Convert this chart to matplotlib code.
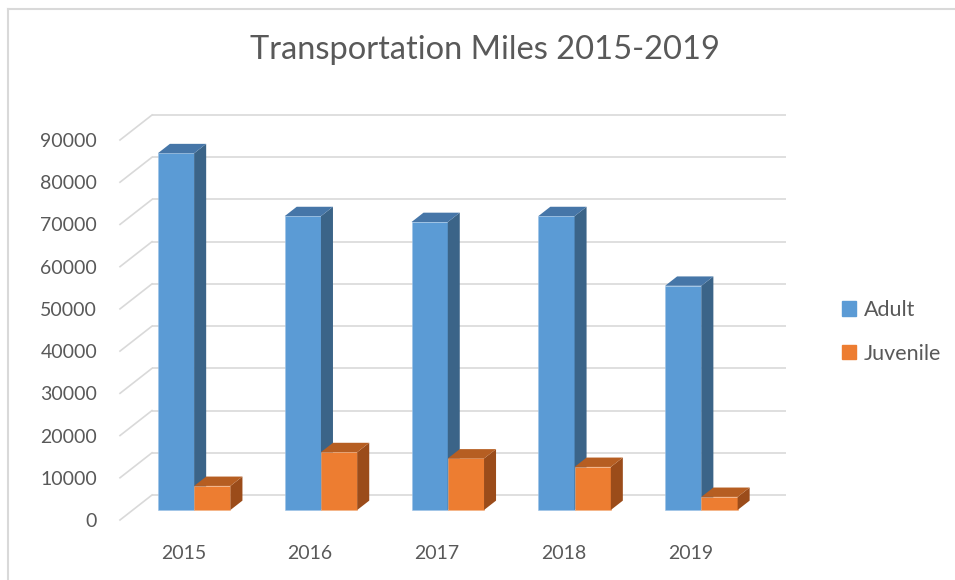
import numpy as np
import matplotlib.pyplot as plt
from matplotlib.lines import Line2D
from matplotlib.patches import Patch

plt.rcParams['font.family'] = ['Lato', 'DejaVu Sans']

# data
years = ['2015', '2016', '2017', '2018', '2019']
adult = [84500, 69600, 68200, 69600, 53100]
juvenile = [5700, 13700, 12200, 10200, 3100]
yticks = list(range(0, 90001, 10000))

TEXT = '#595959'
GRID = '#D9D9D9'
adult_cols = ('#5B9BD5', '#3B6488', '#4676A8')     # front, side, top
juv_cols = ('#ED7D31', '#9B4C1A', '#B65E22')

# pixel geometry of the pseudo-3d box (figure is 955x580 px at dpi 100)
W, H = 955, 580
px_x = 126.8               # pixels per category
px_y = 380 / 90000         # pixels per unit value
x0_px, y0_px = 120, 520    # front-left corner of the floor
ax_left, ax_right, ax_top, ax_bot = 100, 800, 100, 530
depth_dx = 32 / px_x       # full depth offset, data units
depth_dy = 25 / px_y

fig = plt.figure(figsize=(W / 100, H / 100), dpi=100)
ax = fig.add_axes([ax_left / W, 1 - ax_bot / H,
                   (ax_right - ax_left) / W, (ax_bot - ax_top) / H])
ax.set_xlim((ax_left - x0_px) / px_x - 0.5, (ax_right - x0_px) / px_x - 0.5)
ax.set_ylim((y0_px - ax_bot) / px_y, (y0_px - ax_top) / px_y)


def shift(x, y, d):
    return x + d * depth_dx, y + d * depth_dy


# back wall gridlines and left wall diagonals
n = len(years)
for v in yticks:
    bx0, by = shift(-0.5, v, 1)
    bx1, _ = shift(n - 0.5, v, 1)
    ax.plot([bx0, bx1], [by, by], color=GRID, lw=1.2, zorder=1,
            solid_capstyle='butt')
    ax.plot([-0.5, bx0], [v, by], color=GRID, lw=1.2, zorder=1)


def bar3d(xl, w, v, cols, edge, d0=0.4, d1=0.775, z=2):
    front, side, top = cols
    p = [shift(xl, 0, d0), shift(xl + w, 0, d0), shift(xl + w, v, d0), shift(xl, v, d0)]
    ax.fill(*zip(*p), color=front, zorder=z, ec=edge, lw=0.4)
    s = [shift(xl + w, 0, d0), shift(xl + w, 0, d1), shift(xl + w, v, d1), shift(xl + w, v, d0)]
    ax.fill(*zip(*s), color=side, zorder=z, lw=0)
    t = [shift(xl, v, d0), shift(xl + w, v, d0), shift(xl + w, v, d1), shift(xl, v, d1)]
    ax.fill(*zip(*t), color=top, zorder=z, lw=0)


bw = 0.286
for i in range(n):
    bar3d(i - 0.302, bw, adult[i], adult_cols, '#9DC3E6', z=2 + i * 2)
    bar3d(i - 0.302 + bw, bw, juvenile[i], juv_cols, '#F4B183', z=3 + i * 2)

for s in ax.spines.values():
    s.set_visible(False)
ax.set_xticks(range(n))
ax.set_xticklabels(years)
ax.set_yticks(yticks)
ax.set_yticklabels([str(v) for v in yticks])
ax.tick_params(axis='both', length=0, labelsize=14, labelcolor=TEXT)
ax.tick_params(axis='y', pad=2)
ax.tick_params(axis='x', pad=11)

fig.text(485 / W, 1 - 50 / H, 'Transportation Miles 2015-2019', ha='center', va='center',
         fontsize=23.5, color=TEXT)

handles = [Patch(color=adult_cols[0]), Patch(color=juv_cols[0])]
fig.legend(handles, ['Adult', 'Juvenile'], loc='center left',
           bbox_to_anchor=(842 / W, 1 - 332 / H), frameon=False, fontsize=15.5,
           labelcolor=TEXT, handlelength=0.65, handleheight=0.65, handletextpad=0.35,
           labelspacing=1.1, borderaxespad=0, borderpad=0)

# chart border (only left and top edges show in the crop)
fig.add_artist(Line2D([8 / W, 8 / W], [0, 1 - 9 / H], color=GRID, lw=1.5))
fig.add_artist(Line2D([8 / W, 1], [1 - 9 / H, 1 - 9 / H], color=GRID, lw=1.5))

fig.savefig('out.png', dpi=100)
